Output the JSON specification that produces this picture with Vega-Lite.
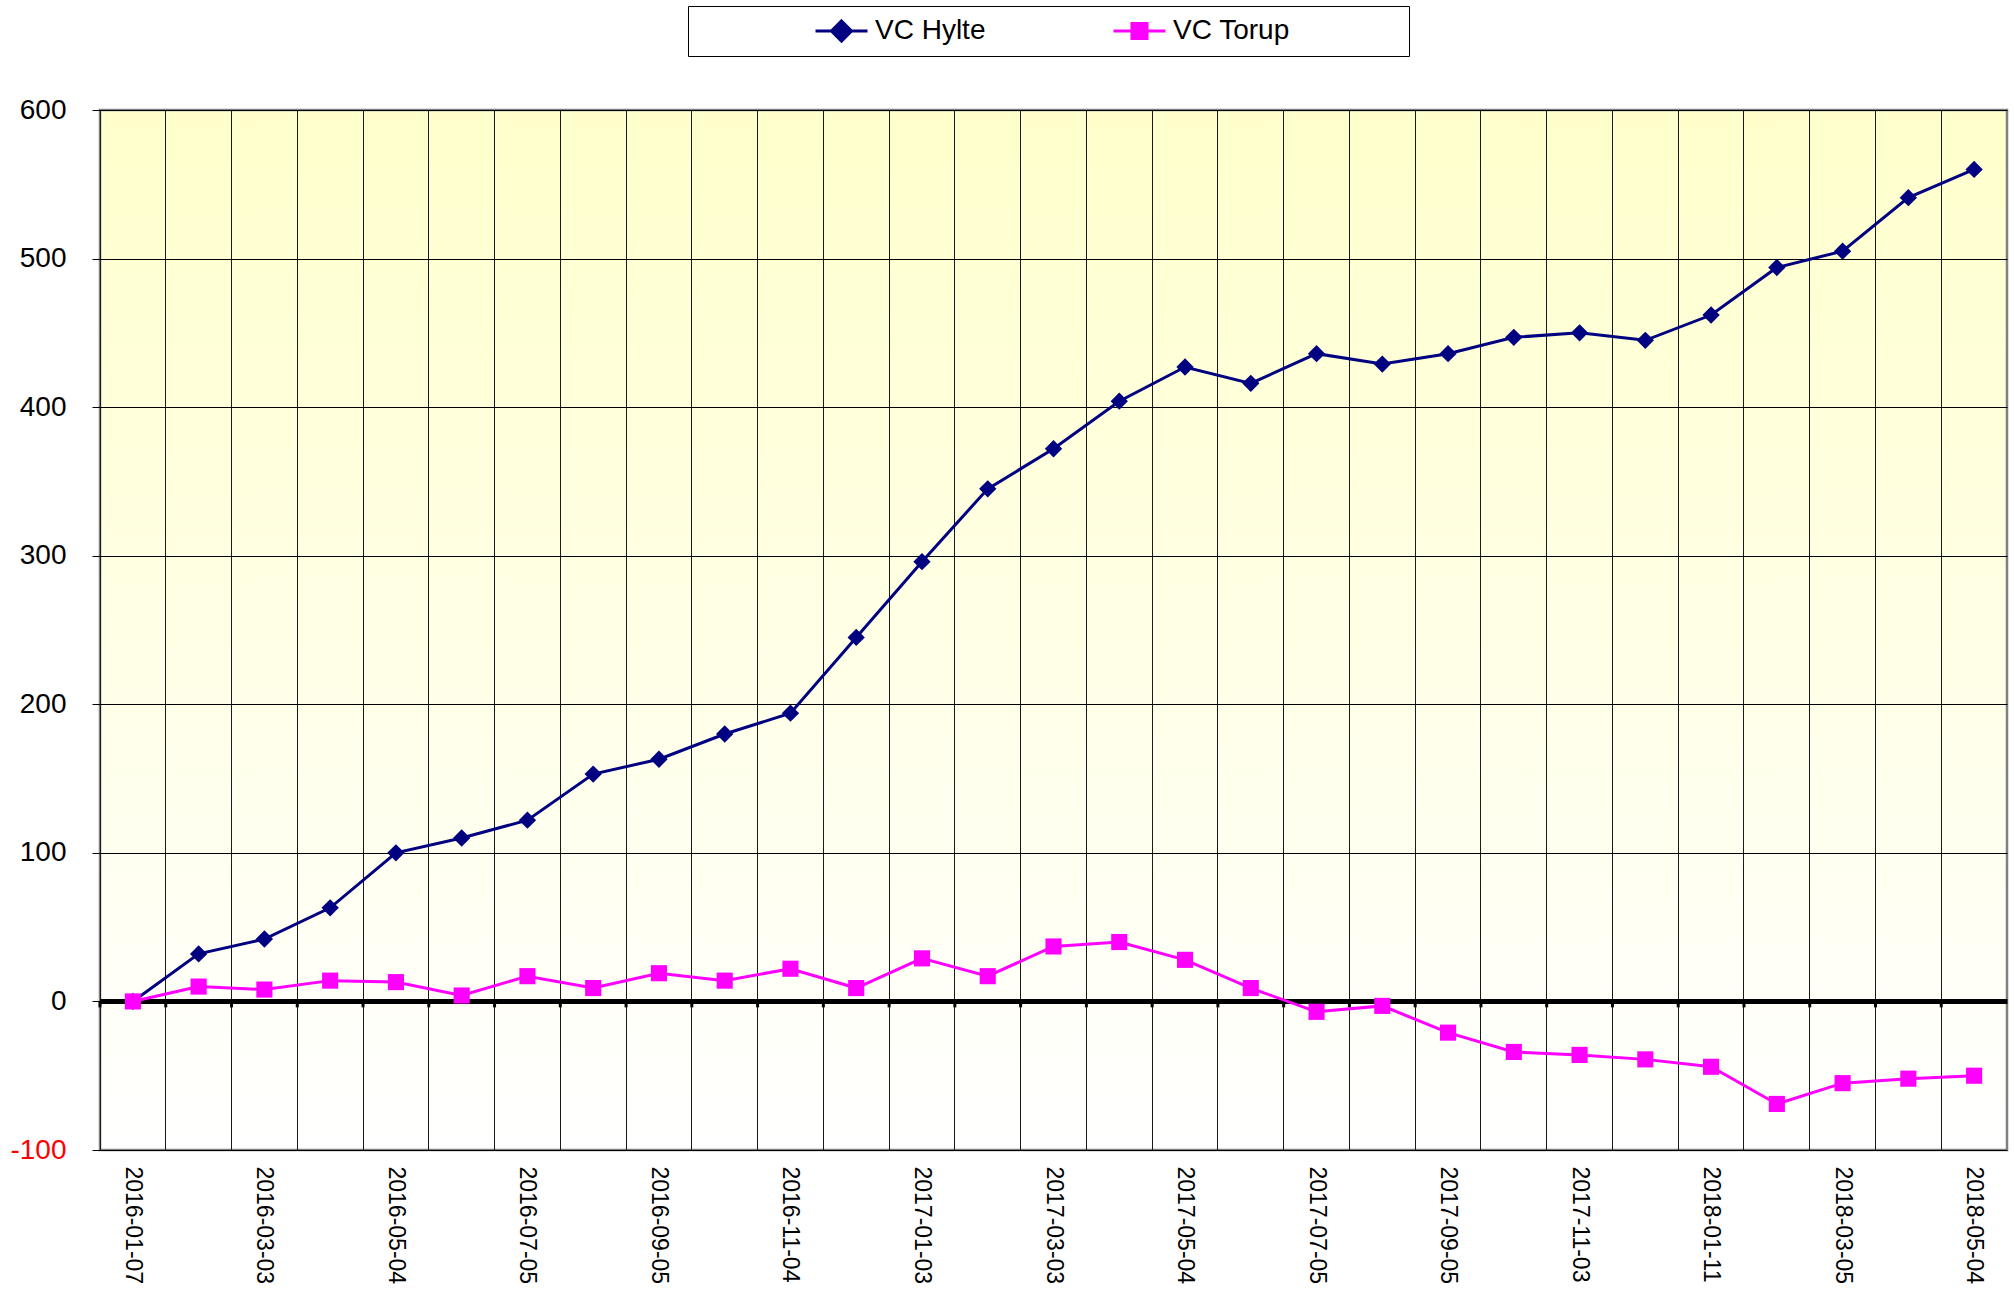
{
  "$schema": "https://vega.github.io/schema/vega-lite/v6.json",
  "width": 1907,
  "height": 1040,
  "autosize": {"type": "pad"},
  "padding": {"left": 9, "top": 5, "right": 5, "bottom": 5},
  "background": "white",
  "config": {
    "view": {
      "stroke": "#808080",
      "strokeWidth": 2.5,
      "fill": {
        "gradient": "linear",
        "x1": 0, "y1": 0, "x2": 0, "y2": 1,
        "stops": [
          {"offset": 0, "color": "#FFFFCC"},
          {"offset": 1, "color": "#FFFFFF"}
        ]
      }
    }
  },
  "data": {
    "values": [
      {"date": "2016-01-07", "series": "VC Hylte", "value": 0},
      {"date": "2016-02", "series": "VC Hylte", "value": 32},
      {"date": "2016-03-03", "series": "VC Hylte", "value": 42},
      {"date": "2016-04", "series": "VC Hylte", "value": 63},
      {"date": "2016-05-04", "series": "VC Hylte", "value": 100},
      {"date": "2016-06", "series": "VC Hylte", "value": 110},
      {"date": "2016-07-05", "series": "VC Hylte", "value": 122},
      {"date": "2016-08", "series": "VC Hylte", "value": 153},
      {"date": "2016-09-05", "series": "VC Hylte", "value": 163},
      {"date": "2016-10", "series": "VC Hylte", "value": 180},
      {"date": "2016-11-04", "series": "VC Hylte", "value": 194},
      {"date": "2016-12", "series": "VC Hylte", "value": 245},
      {"date": "2017-01-03", "series": "VC Hylte", "value": 296},
      {"date": "2017-02", "series": "VC Hylte", "value": 345},
      {"date": "2017-03-03", "series": "VC Hylte", "value": 372},
      {"date": "2017-04", "series": "VC Hylte", "value": 404},
      {"date": "2017-05-04", "series": "VC Hylte", "value": 427},
      {"date": "2017-06", "series": "VC Hylte", "value": 416},
      {"date": "2017-07-05", "series": "VC Hylte", "value": 436},
      {"date": "2017-08", "series": "VC Hylte", "value": 429},
      {"date": "2017-09-05", "series": "VC Hylte", "value": 436},
      {"date": "2017-10", "series": "VC Hylte", "value": 447},
      {"date": "2017-11-03", "series": "VC Hylte", "value": 450},
      {"date": "2017-12", "series": "VC Hylte", "value": 445},
      {"date": "2018-01-11", "series": "VC Hylte", "value": 462},
      {"date": "2018-02", "series": "VC Hylte", "value": 494},
      {"date": "2018-03-05", "series": "VC Hylte", "value": 505},
      {"date": "2018-04", "series": "VC Hylte", "value": 541},
      {"date": "2018-05-04", "series": "VC Hylte", "value": 560},
      {"date": "2016-01-07", "series": "VC Torup", "value": 0},
      {"date": "2016-02", "series": "VC Torup", "value": 10},
      {"date": "2016-03-03", "series": "VC Torup", "value": 8},
      {"date": "2016-04", "series": "VC Torup", "value": 14},
      {"date": "2016-05-04", "series": "VC Torup", "value": 13},
      {"date": "2016-06", "series": "VC Torup", "value": 4},
      {"date": "2016-07-05", "series": "VC Torup", "value": 17},
      {"date": "2016-08", "series": "VC Torup", "value": 9},
      {"date": "2016-09-05", "series": "VC Torup", "value": 19},
      {"date": "2016-10", "series": "VC Torup", "value": 14},
      {"date": "2016-11-04", "series": "VC Torup", "value": 22},
      {"date": "2016-12", "series": "VC Torup", "value": 9},
      {"date": "2017-01-03", "series": "VC Torup", "value": 29},
      {"date": "2017-02", "series": "VC Torup", "value": 17},
      {"date": "2017-03-03", "series": "VC Torup", "value": 37},
      {"date": "2017-04", "series": "VC Torup", "value": 40},
      {"date": "2017-05-04", "series": "VC Torup", "value": 28},
      {"date": "2017-06", "series": "VC Torup", "value": 9},
      {"date": "2017-07-05", "series": "VC Torup", "value": -7},
      {"date": "2017-08", "series": "VC Torup", "value": -3},
      {"date": "2017-09-05", "series": "VC Torup", "value": -21},
      {"date": "2017-10", "series": "VC Torup", "value": -34},
      {"date": "2017-11-03", "series": "VC Torup", "value": -36},
      {"date": "2017-12", "series": "VC Torup", "value": -39},
      {"date": "2018-01-11", "series": "VC Torup", "value": -44},
      {"date": "2018-02", "series": "VC Torup", "value": -69},
      {"date": "2018-03-05", "series": "VC Torup", "value": -55},
      {"date": "2018-04", "series": "VC Torup", "value": -52},
      {"date": "2018-05-04", "series": "VC Torup", "value": -50}
    ]
  },
  "encoding": {
    "x": {
      "field": "date", "type": "ordinal", "sort": null,
      "scale": {"type": "band", "paddingInner": 0, "paddingOuter": 0},
      "axis": {
        "title": null, "orient": "bottom", "bandPosition": 0,
        "labelAngle": 90, "labelFontSize": 23, "labelFont": "Liberation Sans",
        "labelColor": "#000000", "labelPadding": 16,
        "ticks": false, "tickSize": 0, "domain": false,
        "grid": true, "gridColor": "#1a1a1a", "gridWidth": 1,
        "labelOverlap": false, "labelBound": false,
        "labelExpr": "length(datum.value) > 7 ? datum.value : ''"
      }
    },
    "y": {
      "field": "value", "type": "quantitative",
      "scale": {"domain": [-100, 600], "nice": false, "zero": false},
      "axis": {
        "title": null, "values": [-100, 0, 100, 200, 300, 400, 500, 600],
        "labelFontSize": 28, "labelFont": "Liberation Sans",
        "labelColor": {"condition": {"test": "datum.value < 0", "value": "#FF0000"}, "value": "#000000"},
        "labelExpr": "datum.value + ''",
        "labelPadding": 26, "tickSize": 8, "tickColor": "#000000", "tickWidth": 1,
        "domain": false, "grid": true, "gridColor": "#000000",
        "gridWidth": {"condition": {"test": "datum.value === 0", "value": 5}, "value": 1}
      }
    }
  },
  "layer": [
    {
      "transform": [{"filter": "datum.series === 'VC Hylte'"}],
      "mark": {"type": "rule", "color": "#000000", "strokeWidth": 3},
      "encoding": {
        "x": {"field": "date", "type": "ordinal", "sort": null, "bandPosition": 0,
              "scale": {"type": "band", "paddingInner": 0, "paddingOuter": 0}},
        "y": {"datum": 0, "type": "quantitative",
              "scale": {"domain": [-100, 600], "nice": false, "zero": false}},
        "y2": {"datum": -4}
      }
    },
    {
      "mark": {"type": "line", "strokeWidth": 3},
      "encoding": {
        "stroke": {
          "field": "series", "type": "nominal",
          "scale": {"domain": ["VC Hylte", "VC Torup"], "range": ["#000080", "#FF00FF"]}
        }
      }
    },
    {
      "transform": [{"filter": "datum.series === 'VC Hylte'"}],
      "mark": {"type": "point", "shape": "diamond", "filled": true, "size": 300, "opacity": 1, "strokeWidth": 0},
      "encoding": {
        "color": {
          "field": "series", "type": "nominal",
          "scale": {"domain": ["VC Hylte", "VC Torup"], "range": ["#000080", "#FF00FF"]},
          "legend": {
            "title": " ", "titleOrient": "right", "titleFontSize": 28, "titlePadding": 108,
            "orient": "none", "legendX": 588, "legendY": -104, "direction": "horizontal",
            "labelFontSize": 28, "labelFont": "Liberation Sans", "labelColor": "#000000",
            "labelOffset": 6, "columnPadding": 11, "padding": 11, "symbolOffset": 115,
            "clipHeight": 28, "strokeColor": "#000000", "fillColor": "#FFFFFF",
            "symbolSize": 2704, "symbolStrokeWidth": 3,
            "symbolType": {"expr": "datum.value === 'VC Hylte' ? 'M-1,0L1,0M0,-0.385L0.385,0L0,0.385L-0.385,0Z' : 'M-1,0L1,0M-0.29,-0.29L0.29,-0.29L0.29,0.29L-0.29,0.29Z'"},
            "encode": {
              "symbols": {
                "fill": {"condition": {"test": "datum.value === 'VC Hylte'", "value": "#000080"}, "value": "#FF00FF"},
                "stroke": {"condition": {"test": "datum.value === 'VC Hylte'", "value": "#000080"}, "value": "#FF00FF"},
                "strokeWidth": {"value": 3},
                "opacity": {"value": 1}
              }
            }
          }
        }
      }
    },
    {
      "transform": [{"filter": "datum.series === 'VC Torup'"}],
      "mark": {"type": "point", "shape": "square", "filled": true, "size": 260, "opacity": 1, "strokeWidth": 0},
      "encoding": {
        "color": {
          "field": "series", "type": "nominal",
          "scale": {"domain": ["VC Hylte", "VC Torup"], "range": ["#000080", "#FF00FF"]}
        }
      }
    }
  ]
}
